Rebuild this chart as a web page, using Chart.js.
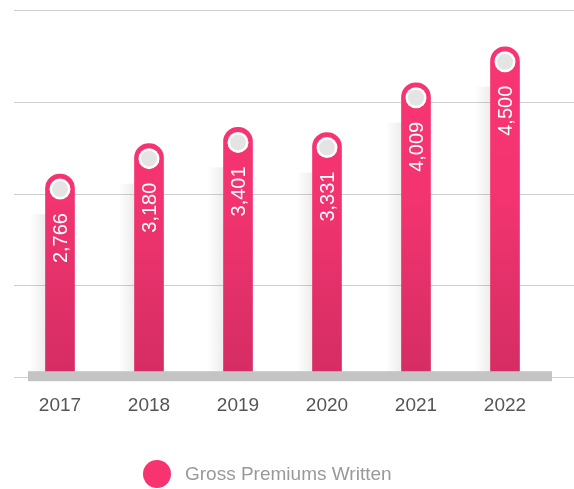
<!DOCTYPE html>
<html>
<head>
<meta charset="utf-8">
<script src="https://cdn.jsdelivr.net/npm/chart.js@4/dist/chart.umd.min.js"></script>
<style>
  html, body { margin: 0; padding: 0; background: #fff; }
  .wrap { position: relative; width: 574px; height: 489px; }
  .legend { position: absolute; left: 143px; top: 460px; height: 28px; display: flex; align-items: center;
    font-family: 'Liberation Sans', Arial, sans-serif; font-size: 19px; color: #999; }
  .legend .dot { width: 28px; height: 28px; border-radius: 50%; background: #F73470; margin-right: 14px; }
</style>
</head>
<body>
<div class="wrap">
  <canvas id="c" width="574" height="489"></canvas>
  <div class="legend"><span class="dot"></span><span>Gross Premiums Written</span></div>
</div>
<script>
const years = ['2017', '2018', '2019', '2020', '2021', '2022']
const premiums = [2766, 3180, 3401, 3331, 4009, 4500]
const gridTicks = [0, 1250, 2500, 3750, 5000]

const FONT = "'Liberation Sans', Arial, sans-serif"

// grid lines run past the plot area, to the right edge
const gridLines = {
  id: 'gridLines',
  beforeDatasetsDraw(chart) {
    const { ctx, scales: { y } } = chart
    ctx.save()
    ctx.strokeStyle = '#cfcfcf'
    ctx.lineWidth = 1
    gridTicks.forEach(v => {
      const py = Math.round(y.getPixelForValue(v)) + 0.5
      ctx.beginPath(); ctx.moveTo(14, py); ctx.lineTo(574, py); ctx.stroke()
    })
    // soft shadow left of each bar
    chart.getDatasetMeta(0).data.forEach(bar => {
      const left = bar.x - bar.width / 2
      const g = ctx.createLinearGradient(left - 16, 0, left, 0)
      g.addColorStop(0, 'rgba(0,0,0,0)')
      g.addColorStop(1, 'rgba(0,0,0,0.07)')
      ctx.fillStyle = g
      ctx.fillRect(left - 16, bar.y + 40, 16, bar.base - bar.y - 40)
    })
    ctx.restore()
  },
  afterDatasetsDraw(chart) {
    const { ctx, scales: { y } } = chart
    const meta = chart.getDatasetMeta(0)
    ctx.save()
    // grey base band
    ctx.fillStyle = '#c4c4c4'
    ctx.fillRect(28, y.getPixelForValue(0) - 6, 524, 10)
    meta.data.forEach((bar, i) => {
      const cy = bar.y + 15
      ctx.fillStyle = '#fff'
      ctx.beginPath(); ctx.arc(bar.x, cy, 10.5, 0, Math.PI * 2); ctx.fill()
      ctx.fillStyle = '#e4e4e4'
      ctx.beginPath(); ctx.arc(bar.x, cy, 8, 0, Math.PI * 2); ctx.fill()
      ctx.save()
      ctx.translate(bar.x + 1, cy + 24)
      ctx.rotate(-Math.PI / 2)
      ctx.fillStyle = '#fff'
      ctx.font = '20px ' + FONT
      ctx.textAlign = 'right'
      ctx.textBaseline = 'middle'
      ctx.fillText(premiums[i].toLocaleString('en-US'), 0, 0)
      ctx.restore()
    })
    ctx.restore()
  },
}

new Chart(document.getElementById('c'), {
  type: 'bar',
  data: {
    labels: years,
    datasets: [{
      label: 'Gross Premiums Written',
      data: premiums,
      barThickness: 29,
      borderRadius: { topLeft: 15, topRight: 15, bottomLeft: 0, bottomRight: 0 },
      borderSkipped: false,
      backgroundColor: c => {
        const area = c.chart.chartArea
        if (!area) return '#F03472'
        const g = c.chart.ctx.createLinearGradient(0, area.top, 0, area.bottom)
        g.addColorStop(0, '#FA3573')
        g.addColorStop(0.5, '#F33471')
        g.addColorStop(1, '#D42D63')
        return g
      },
    }],
  },
  options: {
    responsive: false,
    animation: false,
    layout: { padding: { left: 15.5, right: 24.5, top: 10, bottom: 55 } },
    plugins: { legend: { display: false }, tooltip: { enabled: false } },
    scales: {
      x: {
        grid: { display: false, drawTicks: false },
        border: { display: false },
        ticks: { color: '#555', font: { family: FONT, size: 19 }, padding: 17 },
      },
      y: {
        min: 0, max: 5000,
        grid: { display: false, drawTicks: false },
        border: { display: false },
        ticks: { display: false, stepSize: 1250 },
      },
    },
  },
  plugins: [gridLines],
})
</script>
</body>
</html>
